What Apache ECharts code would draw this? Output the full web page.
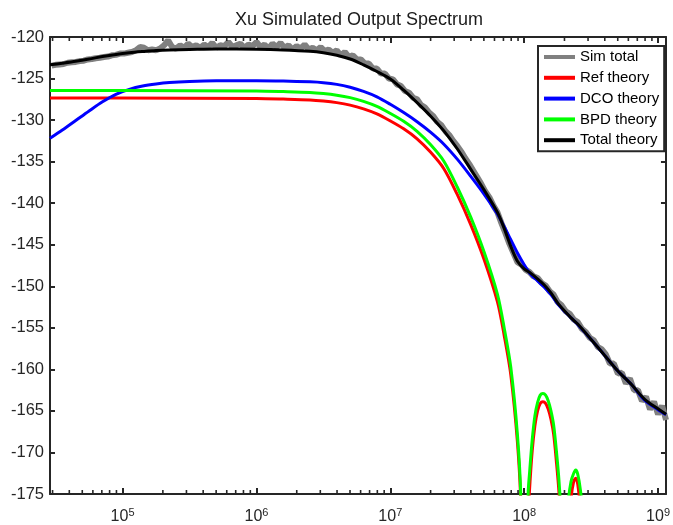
<!DOCTYPE html>
<html><head><meta charset="utf-8">
<script src="https://cdn.jsdelivr.net/npm/echarts@6/dist/echarts.min.js"></script>
<style>html,body{margin:0;padding:0;background:#fff}#c{width:673px;height:525px}</style>
</head><body><div id="c"></div>
<script>
const chartTitle = 'Xu Simulated Output Spectrum';
const seriesNames = ['Sim total', 'Ref theory', 'DCO theory', 'BPD theory', 'Total theory'];
const seriesColors = ['#808080', '#ff0000', '#0000ff', '#00ff00', '#000000'];
const xMin = 2.87e4, xMax = 1.146e9;
const yMin = -175, yMax = -120, yStep = 5;
const minorMantissa = [2, 3, 4, 5, 6, 7, 8, 9];
const minorDecades = [1e4, 1e5, 1e6, 1e7, 1e8];

// Frequencies are given as log10(f / Hz)
// Ref / BPD theory (shared grid, includes sinc nulls and lobes)
const lobeLogF = [4.458, 5.0, 6.0, 6.2, 6.4, 6.5, 6.6, 6.7, 6.8, 6.9,
  7.0, 7.1, 7.2, 7.3, 7.4, 7.5, 7.6, 7.7, 7.8, 7.85, 7.9, 7.95, 7.975,
  8.0,
  8.03, 8.04, 8.06, 8.08, 8.10, 8.12, 8.14, 8.16, 8.18, 8.20, 8.22, 8.24, 8.26, 8.28,
  8.301,
  8.33, 8.35, 8.37, 8.385, 8.40, 8.42, 8.44,
  8.477];
const refDb = [-127.35, -127.35, -127.4, -127.47, -127.57, -127.7, -127.9, -128.2, -128.65, -129.25,
  -130.1, -131.05, -132.25, -133.85, -135.85, -138.95, -142.55, -146.75, -151.85, -155.85, -160.65, -168.85, -176.35,
  -200,
  -178, -174.5, -169.8, -166.8, -165.0, -164.1, -163.9, -164.1, -164.8, -166.0, -167.8, -171.0, -174.8, -181,
  -200,
  -181, -175.6, -173.5, -173.1, -173.8, -177, -184,
  -200];
const bpdDb = [-126.45, -126.45, -126.5, -126.57, -126.67, -126.8, -127.0, -127.3, -127.75, -128.35,
  -129.2, -130.15, -131.35, -132.95, -134.95, -138.05, -141.65, -145.85, -150.95, -154.95, -159.75, -167.95, -175.45,
  -200,
  -174.8, -172.5, -168.5, -165.6, -164.0, -163.1, -162.9, -163.1, -163.8, -165.0, -166.7, -169.7, -173.4, -179,
  -200,
  -176, -173.5, -172.5, -172.1, -172.6, -174.5, -178,
  -200];

// DCO / Total theory (shared grid)
const theoryLogF = [4.458, 4.55, 4.65, 4.75, 4.85, 4.95, 5.05, 5.15, 5.25, 5.35, 5.5, 5.7,
  6.0, 6.2, 6.4, 6.5, 6.6, 6.7, 6.8, 6.9,
  7.0, 7.1, 7.2, 7.3, 7.4, 7.5, 7.6, 7.7, 7.8, 7.85, 7.9, 7.95,
  8.0, 8.05, 8.1, 8.15, 8.2, 8.25, 8.3, 8.35, 8.4,
  8.5, 8.6, 8.7, 8.8, 8.9, 9.0, 9.06];
const dcoDb = [-132.2, -131.2, -130.05, -128.9, -127.8, -126.9, -126.3, -125.9, -125.65, -125.48, -125.35, -125.27,
  -125.26, -125.3, -125.4, -125.5, -125.7, -126.05, -126.55, -127.2,
  -128.1, -129.1, -130.2, -131.45, -132.9, -134.7, -136.75, -138.9, -141.3, -142.8, -144.4, -146.0,
  -147.4, -148.6, -149.35, -150.1, -151.0, -152.1, -153.0, -153.8, -154.6,
  -156.4, -158.3, -160.2, -161.8, -163.7, -164.85, -165.45];
const totalDb = [-123.35, -123.15, -122.92, -122.65, -122.35, -122.1, -121.9, -121.75, -121.62, -121.55, -121.5, -121.44,
  -121.48, -121.56, -121.72, -121.9, -122.2, -122.65, -123.35, -124.15,
  -125.05, -126.4, -127.9, -129.5, -131.3, -133.45, -135.9, -138.4, -141.1, -143.0, -145.2, -147.0,
  -147.9, -148.45, -149.1, -149.85, -150.8, -152.0, -152.95, -153.8, -154.55,
  -156.4, -158.3, -160.2, -161.8, -163.6, -164.75, -165.4];

// Sim total
const simLogF = [4.47,4.50,4.53,4.56,4.59,4.62,4.65,4.68,4.71,4.74,4.77,4.80,4.83,4.86,4.89,4.92,4.95,4.98,
5.01,5.04,5.07,5.10,5.13,5.16,5.19,5.22,5.25,5.28,5.31,5.34,5.37,5.40,5.43,5.46,5.49,5.52,5.55,5.58,5.61,5.64,5.67,5.70,5.73,5.76,5.79,5.82,5.85,5.88,5.91,5.94,5.97,
6.00,6.03,6.06,6.09,6.12,6.15,6.18,6.21,6.24,6.27,6.30,6.33,6.36,6.39,6.42,6.45,6.48,6.51,6.54,6.57,6.60,6.63,6.66,6.69,6.72,6.75,6.78,6.81,6.84,6.87,6.90,6.93,6.96,6.99,
7.02,7.05,7.08,7.11,7.14,7.17,7.20,7.23,7.26,7.29,7.32,7.35,7.38,7.41,7.44,7.47,7.50,7.53,7.56,7.59,7.62,7.65,7.68,7.71,7.74,7.77,7.80,7.83,7.86,7.89,7.92,7.95,7.98,
8.01,8.04,8.07,8.10,8.13,8.16,8.19,8.22,8.25,8.28,8.31,8.34,8.37,8.40,8.43,8.46,8.49,8.52,8.55,8.58,8.61,8.64,8.67,8.70,8.73,8.76,8.79,8.82,8.85,8.88,8.91,8.94,8.97,
9.00,9.03,9.06];
const simDb = [-123.45,-123.35,-123.3,-123.25,-123.1,-123.05,-123.0,-122.9,-122.85,-122.7,-122.65,-122.55,-122.5,-122.4,-122.35,-122.2,-122.15,-122.0,
-122.0,-121.9,-121.8,-121.6,-121.2,-121.3,-121.6,-121.5,-121.6,-121.4,-121.0,-120.4,-121.2,-121.4,-121.0,-121.3,-120.8,-121.2,-121.0,-121.3,-120.9,-121.2,-120.7,-121.3,-121.0,-121.1,-120.6,-121.2,-121.0,-120.8,-121.3,-120.9,-121.1,
-120.6,-121.2,-120.9,-121.4,-120.8,-121.2,-120.7,-121.3,-121.0,-121.5,-121.1,-121.4,-120.9,-121.5,-121.3,-121.6,-121.2,-121.7,-121.5,-121.9,-121.6,-122.2,-121.8,-122.4,-122.2,-122.7,-122.7,-123.2,-123.2,-123.8,-123.8,-124.4,-124.4,-125.0,
-125.1,-125.7,-125.9,-126.5,-126.7,-127.3,-127.5,-128.2,-128.5,-129.1,-129.5,-130.2,-130.6,-131.3,-131.8,-132.5,-133.1,-133.8,-134.6,-135.3,-136.1,-136.9,-137.7,-138.6,-139.3,-140.3,-141.1,-142.4,-143.6,-144.9,-146.0,-147.1,-147.4,
-148.0,-148.3,-148.8,-149.0,-149.6,-149.9,-150.6,-151.0,-151.9,-152.3,-153.0,-153.3,-154.0,-154.3,-155.1,-155.5,-156.2,-156.5,-157.3,-157.6,-158.2,-159.3,-159.3,-160.5,-160.4,-161.7,-161.1,-162.5,-162.5,-163.8,-163.3,-164.8,-163.9,
-165.4,-164.4,-166.1,-164.9];

const toPairs = (logs, ys) => logs.map((e, i) => [Math.pow(10, e), ys[i]]);
const minorTicks = [];
minorDecades.forEach(d => minorMantissa.forEach(m => { const v = m * d; if (v > xMin && v < xMax) minorTicks.push([v, yMin]); }));

const FONT = 'Liberation Sans, Arial, sans-serif';
const AX = '#262626';
const chart = echarts.init(document.getElementById('c'), null, { renderer: 'canvas' });

function lineSeries(idx, data, width, z) {
  return {
    name: seriesNames[idx], type: 'line', data, symbol: 'none', showSymbol: false,
    color: seriesColors[idx], lineStyle: { width, color: seriesColors[idx] },
    smooth: idx === 0 ? false : 0.3, clip: true, z, animation: false,
    xAxisIndex: 0, yAxisIndex: 0
  };
}

const xLabelFmt = v => {
  const e = Math.log10(v);
  if (Math.abs(e - Math.round(e)) > 1e-6) return '';
  return '{b|10}{s|' + Math.round(e) + '}';
};

chart.setOption({
  animation: false,
  backgroundColor: '#fff',
  title: {
    text: chartTitle, left: 354, top: 6, textAlign: 'center',
    textStyle: { fontFamily: FONT, fontSize: 18, fontWeight: 'normal', color: '#1a1a1a' }
  },
  grid: { left: 50, right: 4, top: 37, bottom: 31, containLabel: false },
  legend: {
    data: seriesNames, orient: 'vertical', left: 538, top: 46,
    icon: 'rect', itemWidth: 31, itemHeight: 4, itemGap: 4.8,
    padding: [3, 5, 3, 6], backgroundColor: '#fff', borderColor: AX, borderWidth: 2,
    textStyle: { fontFamily: FONT, fontSize: 15, color: '#000', lineHeight: 16 },
    selectedMode: false
  },
  xAxis: [
    {
      type: 'log', logBase: 10, min: xMin, max: xMax, position: 'bottom',
      axisLine: { onZero: false, lineStyle: { color: AX, width: 2 } },
      axisTick: { inside: true, length: 6, lineStyle: { color: AX, width: 2 } },
      splitLine: { show: false }, minorTick: { show: false },
      axisLabel: {
        showMinLabel: false, showMaxLabel: false, margin: 13, formatter: xLabelFmt,
        rich: {
          b: { fontFamily: FONT, fontSize: 16, color: AX },
          s: { fontFamily: FONT, fontSize: 11, color: AX, padding: [0, 0, 9, 0] }
        }
      }
    },
    {
      type: 'log', logBase: 10, min: xMin, max: xMax, position: 'top',
      axisLine: { onZero: false, lineStyle: { color: AX, width: 2 } },
      axisTick: { inside: true, length: 6, lineStyle: { color: AX, width: 2 } },
      axisLabel: { show: false }, splitLine: { show: false }
    }
  ],
  yAxis: [
    {
      type: 'value', min: yMin, max: yMax, interval: yStep, position: 'left',
      axisLine: { show: true, lineStyle: { color: AX, width: 2 } },
      axisTick: { show: true, inside: true, length: 5, lineStyle: { color: AX, width: 2 } },
      splitLine: { show: false },
      axisLabel: { margin: 6, fontFamily: FONT, fontSize: 16.5, color: AX }
    },
    {
      type: 'value', min: yMin, max: yMax, interval: yStep, position: 'right',
      axisLine: { show: true, lineStyle: { color: AX, width: 2 } },
      axisTick: { show: true, inside: true, length: 5, lineStyle: { color: AX, width: 2 } },
      splitLine: { show: false }, axisLabel: { show: false }
    }
  ],
  series: [
    lineSeries(0, toPairs(simLogF, simDb), 6, 2),
    lineSeries(1, toPairs(lobeLogF, refDb), 3, 3),
    lineSeries(2, toPairs(theoryLogF, dcoDb), 3, 4),
    lineSeries(3, toPairs(lobeLogF, bpdDb), 3, 5),
    lineSeries(4, toPairs(theoryLogF, totalDb), 3, 6),
    {
      name: 'minorTicks', type: 'custom', data: minorTicks, clip: false, silent: true, z: 10,
      xAxisIndex: 0, yAxisIndex: 0,
      renderItem: (params, api) => {
        const v = api.value(0);
        const b = api.coord([v, yMin]);
        const t = api.coord([v, yMax]);
        return {
          type: 'group', children: [
            { type: 'line', shape: { x1: b[0], y1: b[1], x2: b[0], y2: b[1] - 4 }, style: { stroke: AX, lineWidth: 1.6 } },
            { type: 'line', shape: { x1: t[0], y1: t[1], x2: t[0], y2: t[1] + 4 }, style: { stroke: AX, lineWidth: 1.6 } }
          ]
        };
      }
    }
  ]
});
</script></body></html>
